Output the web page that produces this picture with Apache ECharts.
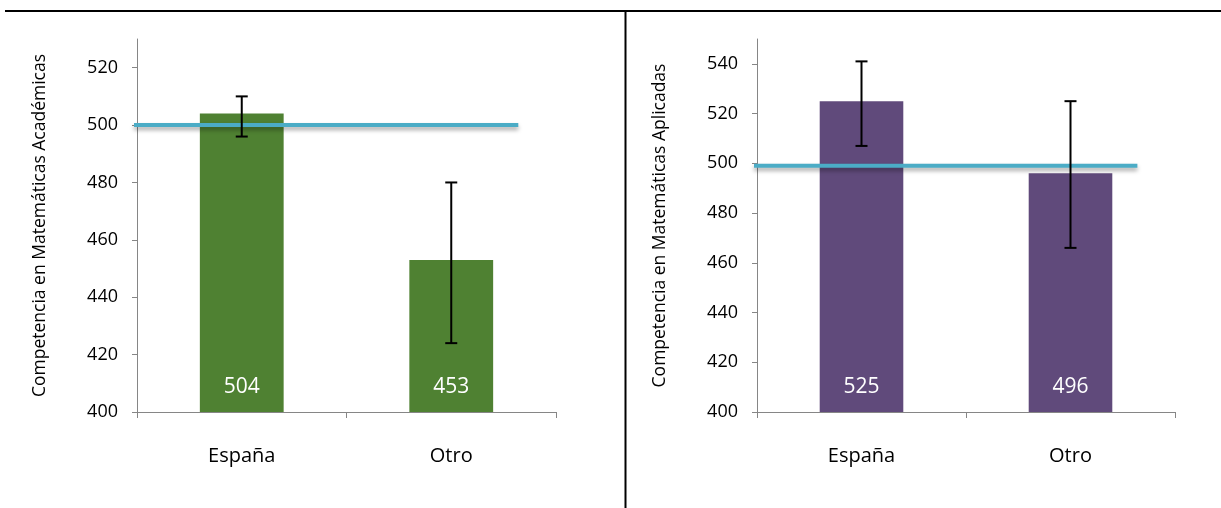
<!DOCTYPE html>
<html>
<head>
<meta charset="utf-8">
<script src="https://cdn.jsdelivr.net/npm/echarts@6/dist/echarts.min.js"></script>
<style>
html,body{margin:0;padding:0;background:#fff;}
#chart{width:1221px;height:508px;}
</style>
</head>
<body>
<div id="chart"></div>
<script>
// ---- data ----
const categories = ['España', 'Otro'];

const academicasValues = [504, 453];
const academicasLow = [496, 424];
const academicasHigh = [510, 480];
const academicasReference = 500;
const academicasTicks = [400, 420, 440, 460, 480, 500, 520];
const academicasTitle = 'Competencia en Matemáticas Académicas';

const aplicadasValues = [525, 496];
const aplicadasLow = [507, 466];
const aplicadasHigh = [541, 525];
const aplicadasReference = 499;
const aplicadasTicks = [400, 420, 440, 460, 480, 500, 520, 540];
const aplicadasTitle = 'Competencia en Matemáticas Aplicadas';

// ---- styles ----
const FONT = 'Open Sans';
const AXIS_COLOR = '#868686';
const GREEN = '#4F8132';
const PURPLE = '#604A7B';
const REF_COLOR = '#4BACC6';

const chart = echarts.init(document.getElementById('chart'), null, {renderer: 'canvas'});

function yAxisFor(gridIndex, min, max, ticks, title) {
  return {
    type: 'value', gridIndex, min, max, interval: 20,
    name: title, nameLocation: 'middle', nameRotate: 90, nameGap: 88,
    nameTextStyle: {fontFamily: FONT, fontSize: 17.5, color: '#000'},
    axisLine: {show: true, lineStyle: {color: AXIS_COLOR, width: 1}},
    axisTick: {show: true, length: 5, lineStyle: {color: AXIS_COLOR}, customValues: ticks},
    axisLabel: {fontFamily: FONT, fontSize: 18, color: '#000', margin: 19, customValues: ticks},
    splitLine: {show: false}
  };
}
function xAxisFor(gridIndex) {
  return {
    type: 'category', gridIndex, data: categories,
    axisLine: {show: true, lineStyle: {color: AXIS_COLOR, width: 1}},
    axisTick: {show: true, length: 6, lineStyle: {color: AXIS_COLOR}},
    axisLabel: {fontFamily: FONT, fontSize: 20, color: '#000', margin: 34}
  };
}
function barSeries(idx, values, color) {
  return {
    type: 'bar', xAxisIndex: idx, yAxisIndex: idx, data: values,
    barWidth: '40%', itemStyle: {color}, z: 2,
    label: {show: true, position: 'insideBottom', distance: 14, color: '#fff',
            fontFamily: FONT, fontSize: 21}
  };
}
function errorSeries(idx, low, high) {
  return {
    type: 'custom', xAxisIndex: idx, yAxisIndex: idx, z: 5,
    data: low.map((l, i) => [i, l, high[i]]),
    renderItem(params, api) {
      const lo = api.coord([api.value(0), api.value(1)]);
      const hi = api.coord([api.value(0), api.value(2)]);
      const cap = 6;
      const st = {stroke: '#000', lineWidth: 2};
      return {type: 'group', children: [
        {type: 'line', shape: {x1: lo[0], y1: lo[1], x2: hi[0], y2: hi[1]}, style: st},
        {type: 'line', shape: {x1: lo[0]-cap, y1: lo[1], x2: lo[0]+cap, y2: lo[1]}, style: st},
        {type: 'line', shape: {x1: hi[0]-cap, y1: hi[1], x2: hi[0]+cap, y2: hi[1]}, style: st}
      ]};
    }
  };
}
function refSeries(idx, value) {
  return {
    type: 'custom', xAxisIndex: idx, yAxisIndex: idx, z: 4,
    data: [[0, value]],
    renderItem(params, api) {
      const cs = params.coordSys;
      const y = api.coord([0, api.value(1)])[1];
      return {type: 'line',
        shape: {x1: cs.x - 3, y1: y, x2: cs.x + cs.width * 0.91, y2: y},
        style: {stroke: REF_COLOR, lineWidth: 4, shadowBlur: 4,
                shadowColor: 'rgba(0,0,0,0.35)', shadowOffsetY: 3}};
    }
  };
}

chart.setOption({
  animation: false,
  backgroundColor: '#fff',
  textStyle: {fontFamily: FONT},
  grid: [
    {left: 137, right: 665, top: 39, bottom: 96},
    {left: 757, right: 46, top: 39, bottom: 96}
  ],
  xAxis: [xAxisFor(0), xAxisFor(1)],
  yAxis: [
    yAxisFor(0, 400, 530, academicasTicks, academicasTitle),
    yAxisFor(1, 400, 550, aplicadasTicks, aplicadasTitle)
  ],
  series: [
    barSeries(0, academicasValues, GREEN),
    refSeries(0, academicasReference),
    errorSeries(0, academicasLow, academicasHigh),
    barSeries(1, aplicadasValues, PURPLE),
    refSeries(1, aplicadasReference),
    errorSeries(1, aplicadasLow, aplicadasHigh)
  ],
  graphic: [
    {type: 'line', shape: {x1: 5, y1: 11, x2: 1221, y2: 11}, style: {stroke: '#000', lineWidth: 2}},
    {type: 'line', shape: {x1: 625.5, y1: 11, x2: 625.5, y2: 508}, style: {stroke: '#000', lineWidth: 2}}
  ]
});
</script>
</body>
</html>
